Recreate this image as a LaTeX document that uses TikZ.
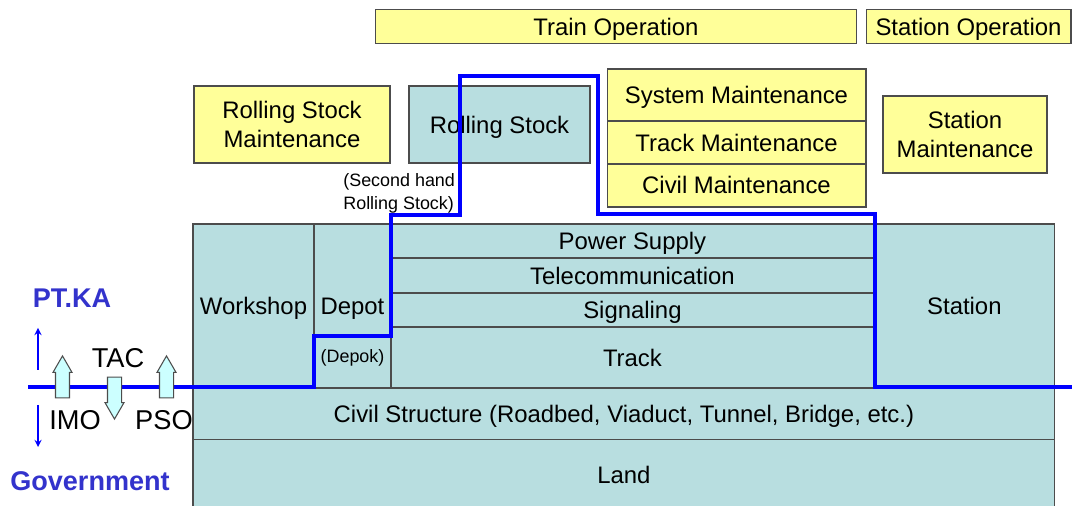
\documentclass[tikz,border=0pt]{standalone}
\usepackage{fontspec}
\setmainfont{Liberation Sans}
\usetikzlibrary{positioning,shapes.arrows}
\definecolor{paleyellow}{RGB}{255,255,153}
\definecolor{paleteal}{RGB}{184,222,224}
\definecolor{partyblue}{RGB}{51,51,204}
\definecolor{arrowfill}{RGB}{204,255,255}

\begin{document}
\begin{tikzpicture}[x=0.02cm,y=-0.02cm,>=stealth,node distance=0pt,
  yellow box/.style={draw=black!70,line width=0.6pt,fill=paleyellow,inner sep=0pt,outer sep=0pt,align=center,text height=9.7pt,text depth=0pt,font=\fontsize{13.6}{17}\selectfont},
  teal box/.style={draw=black!70,line width=0.6pt,fill=paleteal,inner sep=0pt,outer sep=0pt,align=center,text height=9.7pt,text depth=0pt,font=\fontsize{13.6}{17}\selectfont},
  two lines/.style={text height=,text depth=},
  small note/.style={inner sep=0pt,align=left,font=\fontsize{10.2}{13}\selectfont},
  party/.style={inner sep=0pt,text=partyblue,font=\fontsize{15.4}{18}\selectfont\bfseries},
  flow label/.style={inner sep=0pt,font=\fontsize{15.5}{18}\selectfont},
  flow arrow/.style={single arrow,draw=black!70,line width=0.6pt,fill=arrowfill,inner xsep=0pt,inner ysep=0.13cm,minimum height=0.84cm,single arrow head extend=0.05cm,single arrow tip angle=60},
  border line/.style={draw=blue,line width=2.3pt},
  side arrow/.style={->,blue,line width=0.8pt}]
    \useasboundingbox (0,0) rectangle (1072,506);

    % operation and maintenance
    \node[yellow box,minimum width=9.64cm,minimum height=0.68cm] (train op) at (616,26.5) {Train Operation};
    \node[yellow box,minimum width=4.1cm,minimum height=0.68cm] (station op) at (968.5,26.5) {Station Operation};
    \node[yellow box,two lines,minimum width=3.92cm,minimum height=1.54cm] (rs maint) at (292,124.5) {Rolling Stock\\Maintenance};
    \node[teal box,minimum width=3.62cm,minimum height=1.54cm] (rs) at (499.5,124.5) {Rolling Stock};
    \node[yellow box,minimum width=5.18cm,minimum height=1.04cm] (sys maint) at (736.5,95) {System Maintenance};
    \node[yellow box,minimum width=5.18cm,minimum height=0.86cm,below=of sys maint] (track maint) {Track Maintenance};
    \node[yellow box,minimum width=5.18cm,minimum height=0.86cm,below=of track maint] (civil maint) {Civil Maintenance};
    \node[yellow box,two lines,minimum width=3.28cm,minimum height=1.54cm] (station maint) at (965,134.5) {Station\\Maintenance};
    \node[small note,anchor=west] (second hand) at (343,193) {(Second hand\\Rolling Stock)};

    % infrastructure
    \node[teal box,minimum width=2.42cm,minimum height=3.28cm] (workshop) at (253.5,306) {Workshop};
    \node[teal box,minimum width=1.54cm,minimum height=3.28cm,right=of workshop] (depot) {Depot};
    \node[small note] (depok) at (352.5,358) {(Depok)};
    \node[teal box,minimum width=9.66cm,minimum height=0.68cm,anchor=north west] (power) at (depot.north east) {Power Supply};
    \node[teal box,minimum width=9.66cm,minimum height=0.70cm,below=of power] (telecom) {Telecommunication};
    \node[teal box,minimum width=9.66cm,minimum height=0.68cm,below=of telecom] (signal) {Signaling};
    \node[teal box,minimum width=9.66cm,minimum height=1.22cm,below=of signal] (track) {Track};
    \node[teal box,minimum width=3.62cm,minimum height=3.28cm,anchor=north west] (station) at (power.north east) {Station};
    \node[teal box,minimum width=17.24cm,minimum height=1.04cm,anchor=north west] (civil) at (workshop.south west) {Civil Structure (Roadbed, Viaduct, Tunnel, Bridge, etc.)};
    \node[teal box,minimum width=17.24cm,minimum height=1.4cm,below=of civil] (land) {Land};

    % PT.KA / Government
    \node[party] (ptka) at (72,298) {PT.KA};
    \node[party] (gov) at (90,481) {Government};
    \coordinate (up from) at (38,370);
    \coordinate (up to) at (38,328);
    \coordinate (down from) at (38,405);
    \coordinate (down to) at (38,447);
    \draw[side arrow] (up from) -- (up to);
    \draw[side arrow] (down from) -- (down to);

    \coordinate (line west) at (28,387);
    \coordinate (line east) at (1072,387);
    \draw[border line] (line west) -- (314,387) |- (391,336) |- (460,215) |- (598,76) |- (875,214) |- (line east);

    \node[flow arrow,rotate=90] (imo arrow) at (62.5,383) {};
    \node[flow arrow,rotate=-90] (tac arrow) at (114.5,392) {};
    \node[flow arrow,rotate=90] (pso arrow) at (166.5,383) {};
    \node[flow label] (tac) at (118,358) {TAC};
    \node[flow label] (imo) at (75,420) {IMO};
    \node[flow label] (pso) at (164,420) {PSO};
\end{tikzpicture}
\end{document}
